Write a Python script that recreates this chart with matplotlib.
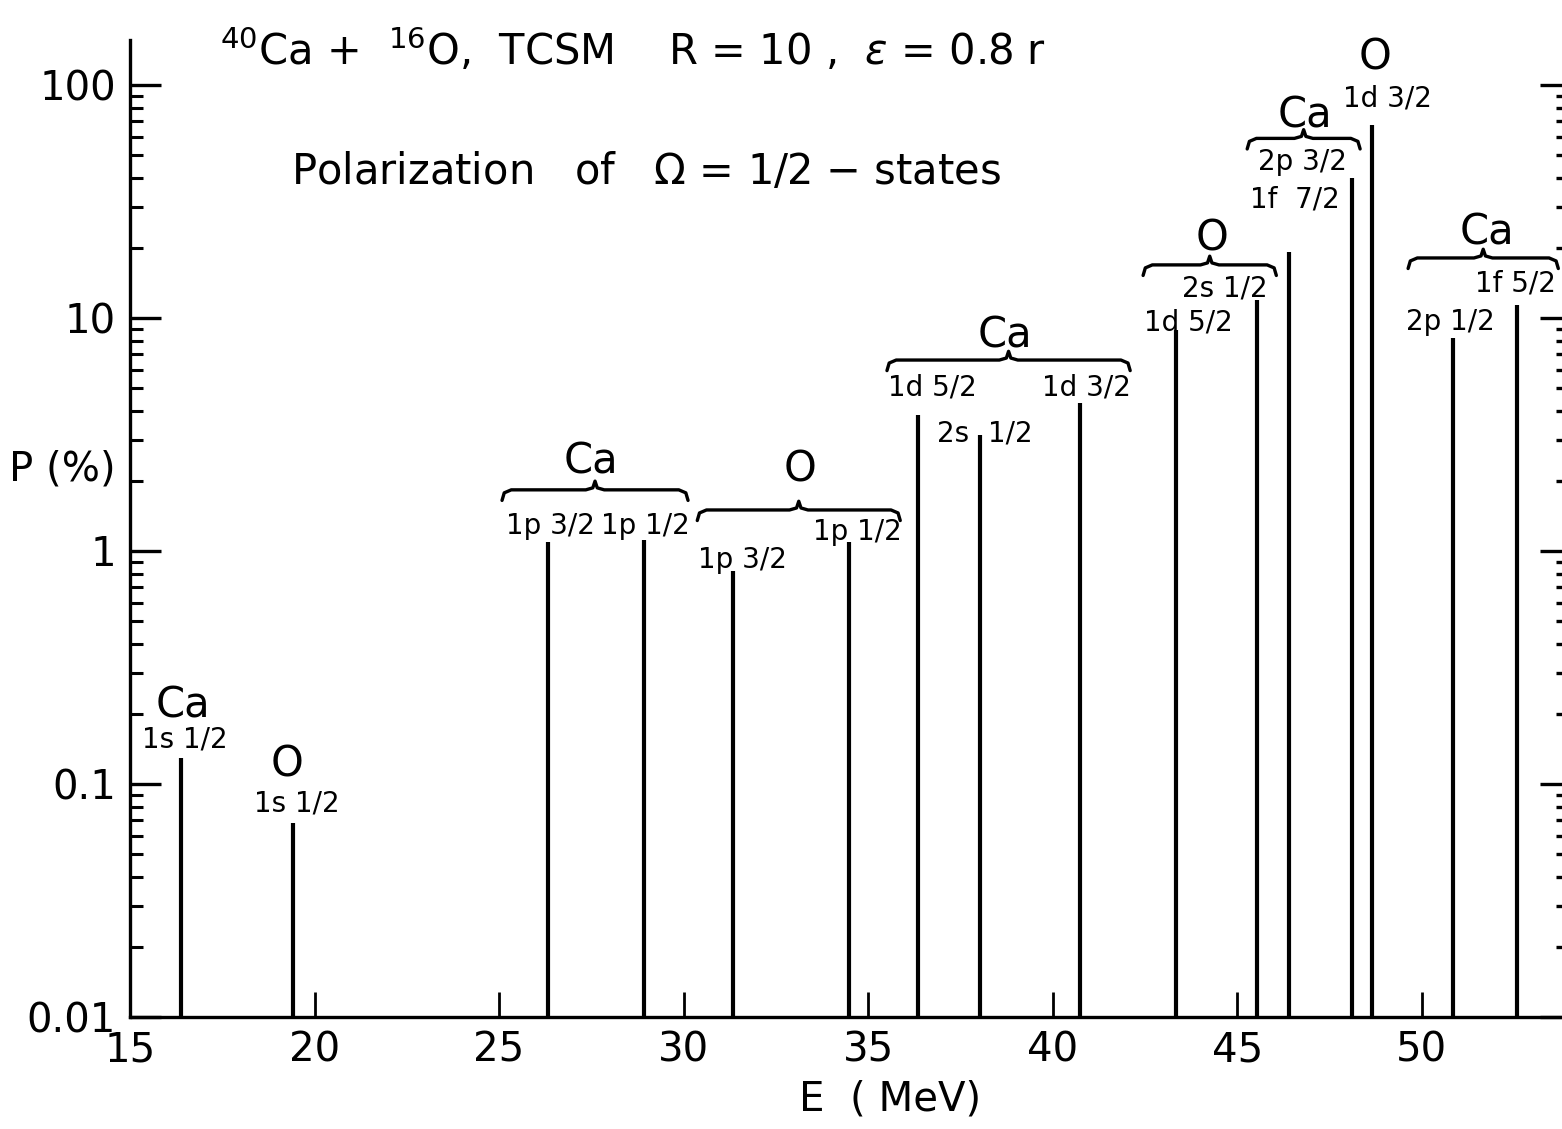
import numpy as np
import matplotlib
matplotlib.use("Agg")
import matplotlib.pyplot as plt

# ---------------- data ----------------
nucleus = ["Ca", "O", "Ca", "Ca", "O", "O", "Ca", "Ca", "Ca", "O", "O", "Ca", "Ca", "O", "Ca", "Ca"]
state = ["1s 1/2", "1s 1/2", "1p 3/2", "1p 1/2", "1p 3/2", "1p 1/2", "1d 5/2", "2s 1/2",
         "1d 3/2", "1d 5/2", "2s 1/2", "1f 7/2", "2p 3/2", "1d 3/2", "2p 1/2", "1f 5/2"]
energy_mev = [16.39, 19.43, 26.33, 28.94, 31.33, 34.48, 36.36, 38.04,
              40.73, 43.34, 45.54, 46.39, 48.10, 48.64, 50.84, 52.58]
polarization_pct = [0.129, 0.068, 1.09, 1.11, 0.82, 1.09, 3.84, 3.15,
                    4.32, 8.87, 11.9, 19.2, 39.9, 67.3, 8.2, 11.4]

x_ticks = [15, 20, 25, 30, 35, 40, 45, 50]
y_ticks = [0.01, 0.1, 1, 10, 100]
y_tick_labels = ["0.01", "0.1", "1", "10", "100"]

# ---------------- figure ----------------
plt.rcParams['font.family'] = ['DejaVu Sans']
fig = plt.figure(figsize=(15.62, 11.29), dpi=100)
ax = fig.add_axes([130/1562, 1 - 1017/1129, 1 - 130/1562, (1017 - 40)/1129])

ax.set_yscale('log')
ax.set_xlim(15, 53.8)
ax.set_ylim(0.01, 156)

ax.vlines(energy_mev, 0.01, polarization_pct, colors='black', linewidth=3.0)

for s in ['left', 'bottom']:
    ax.spines[s].set_linewidth(2.4)
ax.spines['top'].set_visible(False)
ax.spines['right'].set_visible(False)

ax.set_xticks(x_ticks)
ax.set_xticklabels([str(t) for t in x_ticks])
ax.set_yticks(y_ticks)
ax.set_yticklabels(y_tick_labels)
ax.tick_params(axis='x', which='major', direction='in', length=18, width=2.0,
               labelsize=29, pad=10)
ax.tick_params(axis='x', which='minor', bottom=False)
ax.tick_params(axis='y', which='major', direction='in', length=22, width=2.4,
               labelsize=29, pad=10)
ax.tick_params(axis='y', which='minor', direction='in', length=9, width=2.2)
ax.yaxis.set_minor_locator(matplotlib.ticker.LogLocator(base=10, subs=np.arange(2, 10)))
ax.yaxis.set_minor_formatter(matplotlib.ticker.NullFormatter())

# right-hand tick marks (short dots for minor ticks)
ax2 = ax.twinx()
ax2.set_yscale('log')
ax2.set_ylim(ax.get_ylim())
for s in ax2.spines.values():
    s.set_visible(False)
ax2.set_yticks(y_ticks)
ax2.yaxis.set_minor_locator(matplotlib.ticker.LogLocator(base=10, subs=np.arange(2, 10)))
ax2.yaxis.set_minor_formatter(matplotlib.ticker.NullFormatter())
ax2.tick_params(axis='y', which='major', direction='in', length=16, width=2.4,
                labelright=False)
ax2.tick_params(axis='y', which='minor', direction='in', length=4, width=2.4)

# axis labels
fig.text(62/1562, 1 - 470/1129, "P (%)", fontsize=29, ha='center', va='center')
fig.text(890/1562, 1 - 1100/1129, "E  ( MeV)", fontsize=29, ha='center', va='center')

# titles
fig.text(633/1562, 1 - 50/1129, r"$^{40}$Ca +  $^{16}$O,  TCSM    R = 10 ,  $\epsilon$ = 0.8 r",
         fontsize=30, ha='center', va='center')
fig.text(646/1562, 1 - 172/1129, r"Polarization   of   $\Omega$ = 1/2 $-$ states",
         fontsize=30, ha='center', va='center')

big = 30
small = 20

def txt(x, y, s, size):
    ax.text(x, y, s, fontsize=size, ha='center', va='center')

# labels
txt(16.44, 0.218, "Ca", big)
txt(16.49, 0.155, "1s 1/2", small)
txt(19.25, 0.121, "O", big)
txt(19.53, 0.0827, "1s 1/2", small)

txt(27.49, 2.41, "Ca", big)
txt(26.38, 1.28, "1p 3/2", small)
txt(28.96, 1.28, "1p 1/2", small)
txt(33.16, 2.23, "O", big)
txt(31.59, 0.914, "1p 3/2", small)
txt(34.70, 1.21, "1p 1/2", small)

txt(38.71, 8.45, "Ca", big)
txt(36.73, 5.01, "1d 5/2", small)
txt(40.91, 5.01, "1d 3/2", small)
txt(37.30, 3.18, "2s", small)
txt(38.85, 3.18, "1/2", small)

txt(44.32, 22.0, "O", big)
txt(44.67, 13.45, "2s 1/2", small)
txt(43.67, 9.6, "1d 5/2", small)

txt(46.84, 74.3, "Ca", big)
txt(46.76, 46.7, "2p 3/2", small)
txt(46.57, 32.1, "1f  7/2", small)
txt(48.74, 130.6, "O", big)
txt(49.07, 87.9, "1d 3/2", small)

txt(51.77, 23.2, "Ca", big)
txt(52.53, 14.1, "1f 5/2", small)
txt(50.77, 9.6, "2p 1/2", small)

# curly braces (x in data, y in data with log-multiplicative hooks)
def brace(x0, x1, y, hook=1.11, tip=1.09):
    xm = 0.5 * (x0 + x1)
    xs = [x0, x0 + 0.06, x0 + 0.25, xm - 0.25, xm - 0.06, xm,
          xm + 0.06, xm + 0.25, x1 - 0.25, x1 - 0.06, x1]
    ys = [y / hook, y / 1.03, y, y, y * 1.02, y * tip,
          y * 1.02, y, y, y / 1.03, y / hook]
    ax.plot(xs, ys, color='black', linewidth=2.4, solid_capstyle='round',
            solid_joinstyle='round', clip_on=False)

brace(25.08, 30.12, 1.83)
brace(30.37, 35.87, 1.50)
brace(35.51, 42.10, 6.6)
brace(42.45, 46.06, 16.9)
brace(45.27, 48.33, 59.0)
brace(49.63, 53.70, 18.1)

fig.savefig("out.png", dpi=100)
